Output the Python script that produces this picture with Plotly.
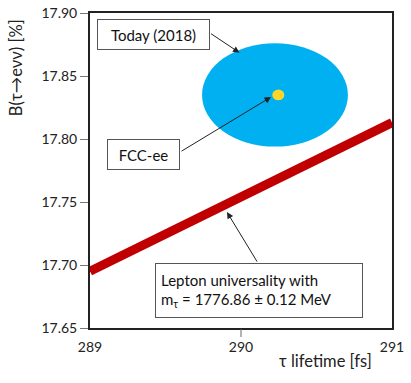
import plotly.graph_objects as go

# ---- data ----
lepton_tau = [289.0, 291.0]          # tau lifetime [fs]
lepton_B = [17.695, 17.813]          # B(tau -> e nu nu) [%]

today_tau, today_tau_err = 290.225, 0.483
today_B, today_B_err = 17.835, 0.041

fcc_tau, fcc_tau_err = 290.247, 0.040
fcc_B, fcc_B_err = 17.835, 0.0042

x_ticks = [289, 290, 291]
x_ticktext = ["289", "290", "291"]
y_ticks = [17.65, 17.70, 17.75, 17.80, 17.85, 17.90]
y_ticktext = ["17.65", "17.70", "17.75", "17.80", "17.85", "17.90"]

FONT = "Lato"
BLUE = "#00B0F0"
YELLOW = "#FFD52A"
RED = "#C00000"

fig = go.Figure()

fig.add_trace(go.Scatter(
    x=lepton_tau, y=lepton_B, mode="lines",
    line=dict(color=RED, width=9),
    hoverinfo="skip", showlegend=False,
))

shapes = [
    dict(type="circle", xref="x", yref="y",
         x0=today_tau - today_tau_err, x1=today_tau + today_tau_err,
         y0=today_B - today_B_err, y1=today_B + today_B_err,
         fillcolor=BLUE, line=dict(width=0), layer="below"),
    dict(type="circle", xref="x", yref="y",
         x0=fcc_tau - fcc_tau_err, x1=fcc_tau + fcc_tau_err,
         y0=fcc_B - fcc_B_err, y1=fcc_B + fcc_B_err,
         fillcolor=YELLOW, line=dict(width=0), layer="below"),
    # single x tick mark at 290
    dict(type="line", xref="x", x0=290, x1=290,
         yref="paper", ysizemode="pixel", yanchor=0, y0=-1, y1=-9,
         line=dict(color="#666", width=1)),
]

box_font = dict(family=FONT, size=15, color="#111")
annotations = [
    # text boxes
    dict(text="Today (2018)", xref="paper", yref="paper",
         x=0.0232, y=0.981, xanchor="left", yanchor="top",
         width=111, height=29, showarrow=False, font=box_font,
         bordercolor="#555", borderwidth=1, borderpad=0, bgcolor="white"),
    dict(text="FCC-ee", xref="paper", yref="paper",
         x=0.0563, y=0.6, xanchor="left", yanchor="top",
         width=71, height=29, showarrow=False, font=box_font,
         bordercolor="#555", borderwidth=1, borderpad=0, bgcolor="white"),
    dict(text="Lepton universality with<br>m<sub>τ</sub> = 1776.86 ± 0.12 MeV",
         xref="paper", yref="paper",
         x=0.2152, y=0.2063, xanchor="left", yanchor="top",
         width=196, height=43, align="left", showarrow=False, font=box_font,
         bordercolor="#555", borderwidth=1, borderpad=5, bgcolor="white"),
    # arrows
    dict(text="", x=289.99, y=17.8685, xref="x", yref="y",
         ax=-30, ay=-20, showarrow=True, arrowhead=2, arrowsize=1.3,
         arrowwidth=1, arrowcolor="#222"),
    dict(text="", x=290.199, y=17.8333, xref="x", yref="y",
         ax=-91, ay=55, showarrow=True, arrowhead=2, arrowsize=1.3,
         arrowwidth=1, arrowcolor="#222"),
    dict(text="", x=289.907, y=17.742, xref="x", yref="y",
         ax=31, ay=51, showarrow=True, arrowhead=2, arrowsize=1.3,
         arrowwidth=1, arrowcolor="#222"),
    # axis titles
    dict(text="B(τ→eνν) [%]", xref="paper", yref="paper",
         x=-0.245, y=0.825, xanchor="center", yanchor="middle",
         textangle=-90, showarrow=False,
         font=dict(family=FONT, size=16.5, color="#222")),
    dict(text="τ lifetime [fs]", xref="paper", yref="paper",
         x=0.781, y=-0.104, xanchor="center", yanchor="middle",
         showarrow=False,
         font=dict(family=FONT, size=16.5, color="#222")),
]

fig.update_layout(
    width=411, height=383,
    margin=dict(l=90, r=19, t=13, b=55, autoexpand=False),
    paper_bgcolor="white", plot_bgcolor="white",
    shapes=shapes, annotations=annotations,
    xaxis=dict(range=[289, 291], tickvals=x_ticks, ticktext=x_ticktext,
               ticks="", ticklabelstandoff=5, ticklabeloverflow="allow",
               showgrid=False, zeroline=False,
               showline=True, mirror=True, linecolor="#222", linewidth=2,
               tickfont=dict(family=FONT, size=14, color="#222")),
    yaxis=dict(range=[17.65, 17.90], tickvals=y_ticks, ticktext=y_ticktext,
               ticks="outside", ticklen=8, tickcolor="#777", tickwidth=1,
               ticklabeloverflow="allow",
               showgrid=False, zeroline=False,
               showline=True, mirror=True, linecolor="#222", linewidth=2,
               tickfont=dict(family=FONT, size=14, color="#222")),
)

fig.write_html(
    "out.html",
    config={"displayModeBar": False},
    post_script="document.body.style.margin='0';document.body.style.overflow='hidden';",
)
